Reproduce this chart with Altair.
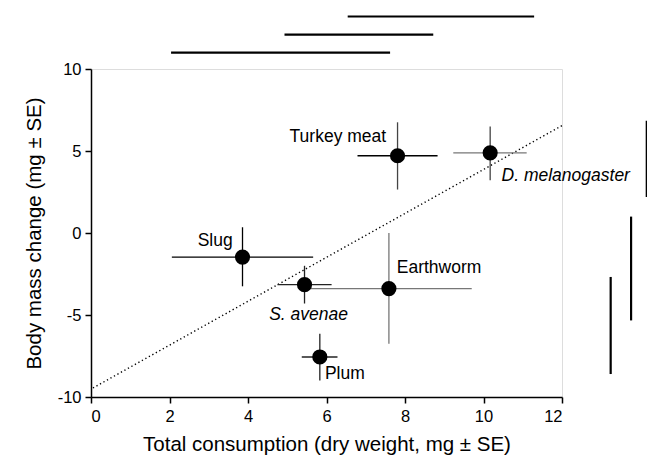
import altair as alt
import pandas as pd

# --- data ---
foods = ["Turkey meat", "D. melanogaster", "Slug", "S. avenae", "Earthworm", "Plum"]
consumption = [7.81, 10.17, 3.86, 5.44, 7.59, 5.83]
cons_lo = [6.79, 9.23, 2.06, 4.75, 5.49, 5.37]
cons_hi = [8.83, 11.10, 5.66, 6.13, 9.70, 6.28]
mass_change = [4.71, 4.89, -1.47, -3.15, -3.39, -7.56]
mass_lo = [2.65, 3.21, -3.25, -4.30, -6.75, -9.00]
mass_hi = [6.75, 6.50, 0.35, -2.00, 0.00, -6.14]

# labels (anchor position in data units)
label_x = [7.52, 10.46, 3.61, 4.54, 7.79, 5.96]
label_y = [5.55, 3.19, -0.79, -5.30, -2.46, -8.92]
label_align = ["right", "left", "right", "left", "left", "left"]
label_italic = [False, True, False, True, False, False]

# regression (dotted) line endpoints
fit_x = [0.05, 12.0]
fit_y = [-9.45, 6.55]

# significance bars above (x ranges) and at right (y ranges)
top_x1 = [6.54, 4.93, 2.04]
top_x2 = [11.29, 8.72, 7.62]
top_y = [13.2, 12.1, 11.0]
right_x = [14.16, 13.76, 13.24]
right_y1 = [6.85, 1.0, -2.68]
right_y2 = [2.2, -5.33, -8.6]

# styles (error-bar shades)
xbar_col = ["#000000", "#777777", "#000000", "#222222", "#777777", "#222222"]
ybar_col = ["#444444", "#444444", "#000000", "#222222", "#777777", "#222222"]

df = pd.DataFrame({
    "food": foods, "x": consumption, "xlo": cons_lo, "xhi": cons_hi,
    "y": mass_change, "ylo": mass_lo, "yhi": mass_hi,
    "xc": xbar_col, "yc": ybar_col,
})
lab = pd.DataFrame({"food": foods, "lx": label_x, "ly": label_y,
                    "align": label_align, "italic": label_italic})
fit = pd.DataFrame({"x": fit_x, "y": fit_y})
top = pd.DataFrame({"x1": top_x1, "x2": top_x2, "y": top_y})
right = pd.DataFrame({"x": right_x, "y1": right_y1, "y2": right_y2})

FONT = "Liberation Sans"
xs = alt.Scale(domain=[0, 12], nice=False, zero=False)
ys = alt.Scale(domain=[-10, 10], nice=False, zero=False)

xaxis = alt.Axis(values=[0, 2, 4, 6, 8, 10, 12], grid=False, title="Total consumption (dry weight, mg ± SE)",
                 labelExpr="datum.value",
                 domainColor="black", domainWidth=1.5, tickColor="black", tickWidth=1.5, tickSize=6,
                 labelFont=FONT, labelFontSize=16.5, labelColor="black", labelPadding=5,
                 titleFont=FONT, titleFontSize=20.5, titleFontWeight="normal", titleColor="black",
                 titlePadding=10)
yaxis = alt.Axis(values=[-10, -5, 0, 5, 10], grid=False, title="Body mass change (mg ± SE)",
                 labelExpr="datum.value",
                 domainColor="black", domainWidth=1.5, tickColor="black", tickWidth=1.5, tickSize=6,
                 labelFont=FONT, labelFontSize=16.5, labelColor="black", labelPadding=4,
                 titleFont=FONT, titleFontSize=20.5, titleFontWeight="normal", titleColor="black",
                 titlePadding=13)

base = alt.Chart(df)

fitline = alt.Chart(fit).mark_line(color="black", strokeWidth=1.4, strokeDash=[1.3, 2.7]).encode(
    x=alt.X("x:Q", scale=xs, axis=xaxis), y=alt.Y("y:Q", scale=ys, axis=yaxis))

xbars = base.mark_rule(strokeWidth=1.3).encode(
    x=alt.X("xlo:Q", scale=xs), x2="xhi:Q", y=alt.Y("y:Q", scale=ys),
    color=alt.Color("xc:N", scale=None))
ybars = base.mark_rule(strokeWidth=1.3).encode(
    x=alt.X("x:Q", scale=xs), y=alt.Y("ylo:Q", scale=ys), y2="yhi:Q",
    color=alt.Color("yc:N", scale=None))
points = base.mark_circle(size=230, color="black", opacity=1).encode(
    x=alt.X("x:Q", scale=xs), y=alt.Y("y:Q", scale=ys))

def labels(align, italic):
    sub = lab[(lab["align"] == align) & (lab["italic"] == italic)]
    return alt.Chart(sub).mark_text(align=align, baseline="alphabetic", font=FONT, fontSize=17.5,
                                    fontStyle="italic" if italic else "normal", color="black").encode(
        x=alt.X("lx:Q", scale=xs), y=alt.Y("ly:Q", scale=ys), text="food:N")

toplines = alt.Chart(top).mark_rule(color="black", strokeWidth=2.2).encode(
    x=alt.X("x1:Q", scale=xs), x2="x2:Q", y=alt.Y("y:Q", scale=ys))
rightlines = alt.Chart(right).mark_rule(color="black", strokeWidth=2.2).encode(
    x=alt.X("x:Q", scale=xs), y=alt.Y("y1:Q", scale=ys), y2="y2:Q")

chart = alt.layer(
    fitline, xbars, ybars, points,
    labels("right", False), labels("left", False), labels("left", True),
    toplines, rightlines,
).properties(
    width=471, height=328,
    autosize=alt.AutoSizeParams(type="none"),
    padding={"left": 83, "top": 61, "right": 85, "bottom": 60},
).configure_view(stroke=None).configure(background="white")

chart.save("out.html", embed_options={"renderer": "svg", "actions": False})
